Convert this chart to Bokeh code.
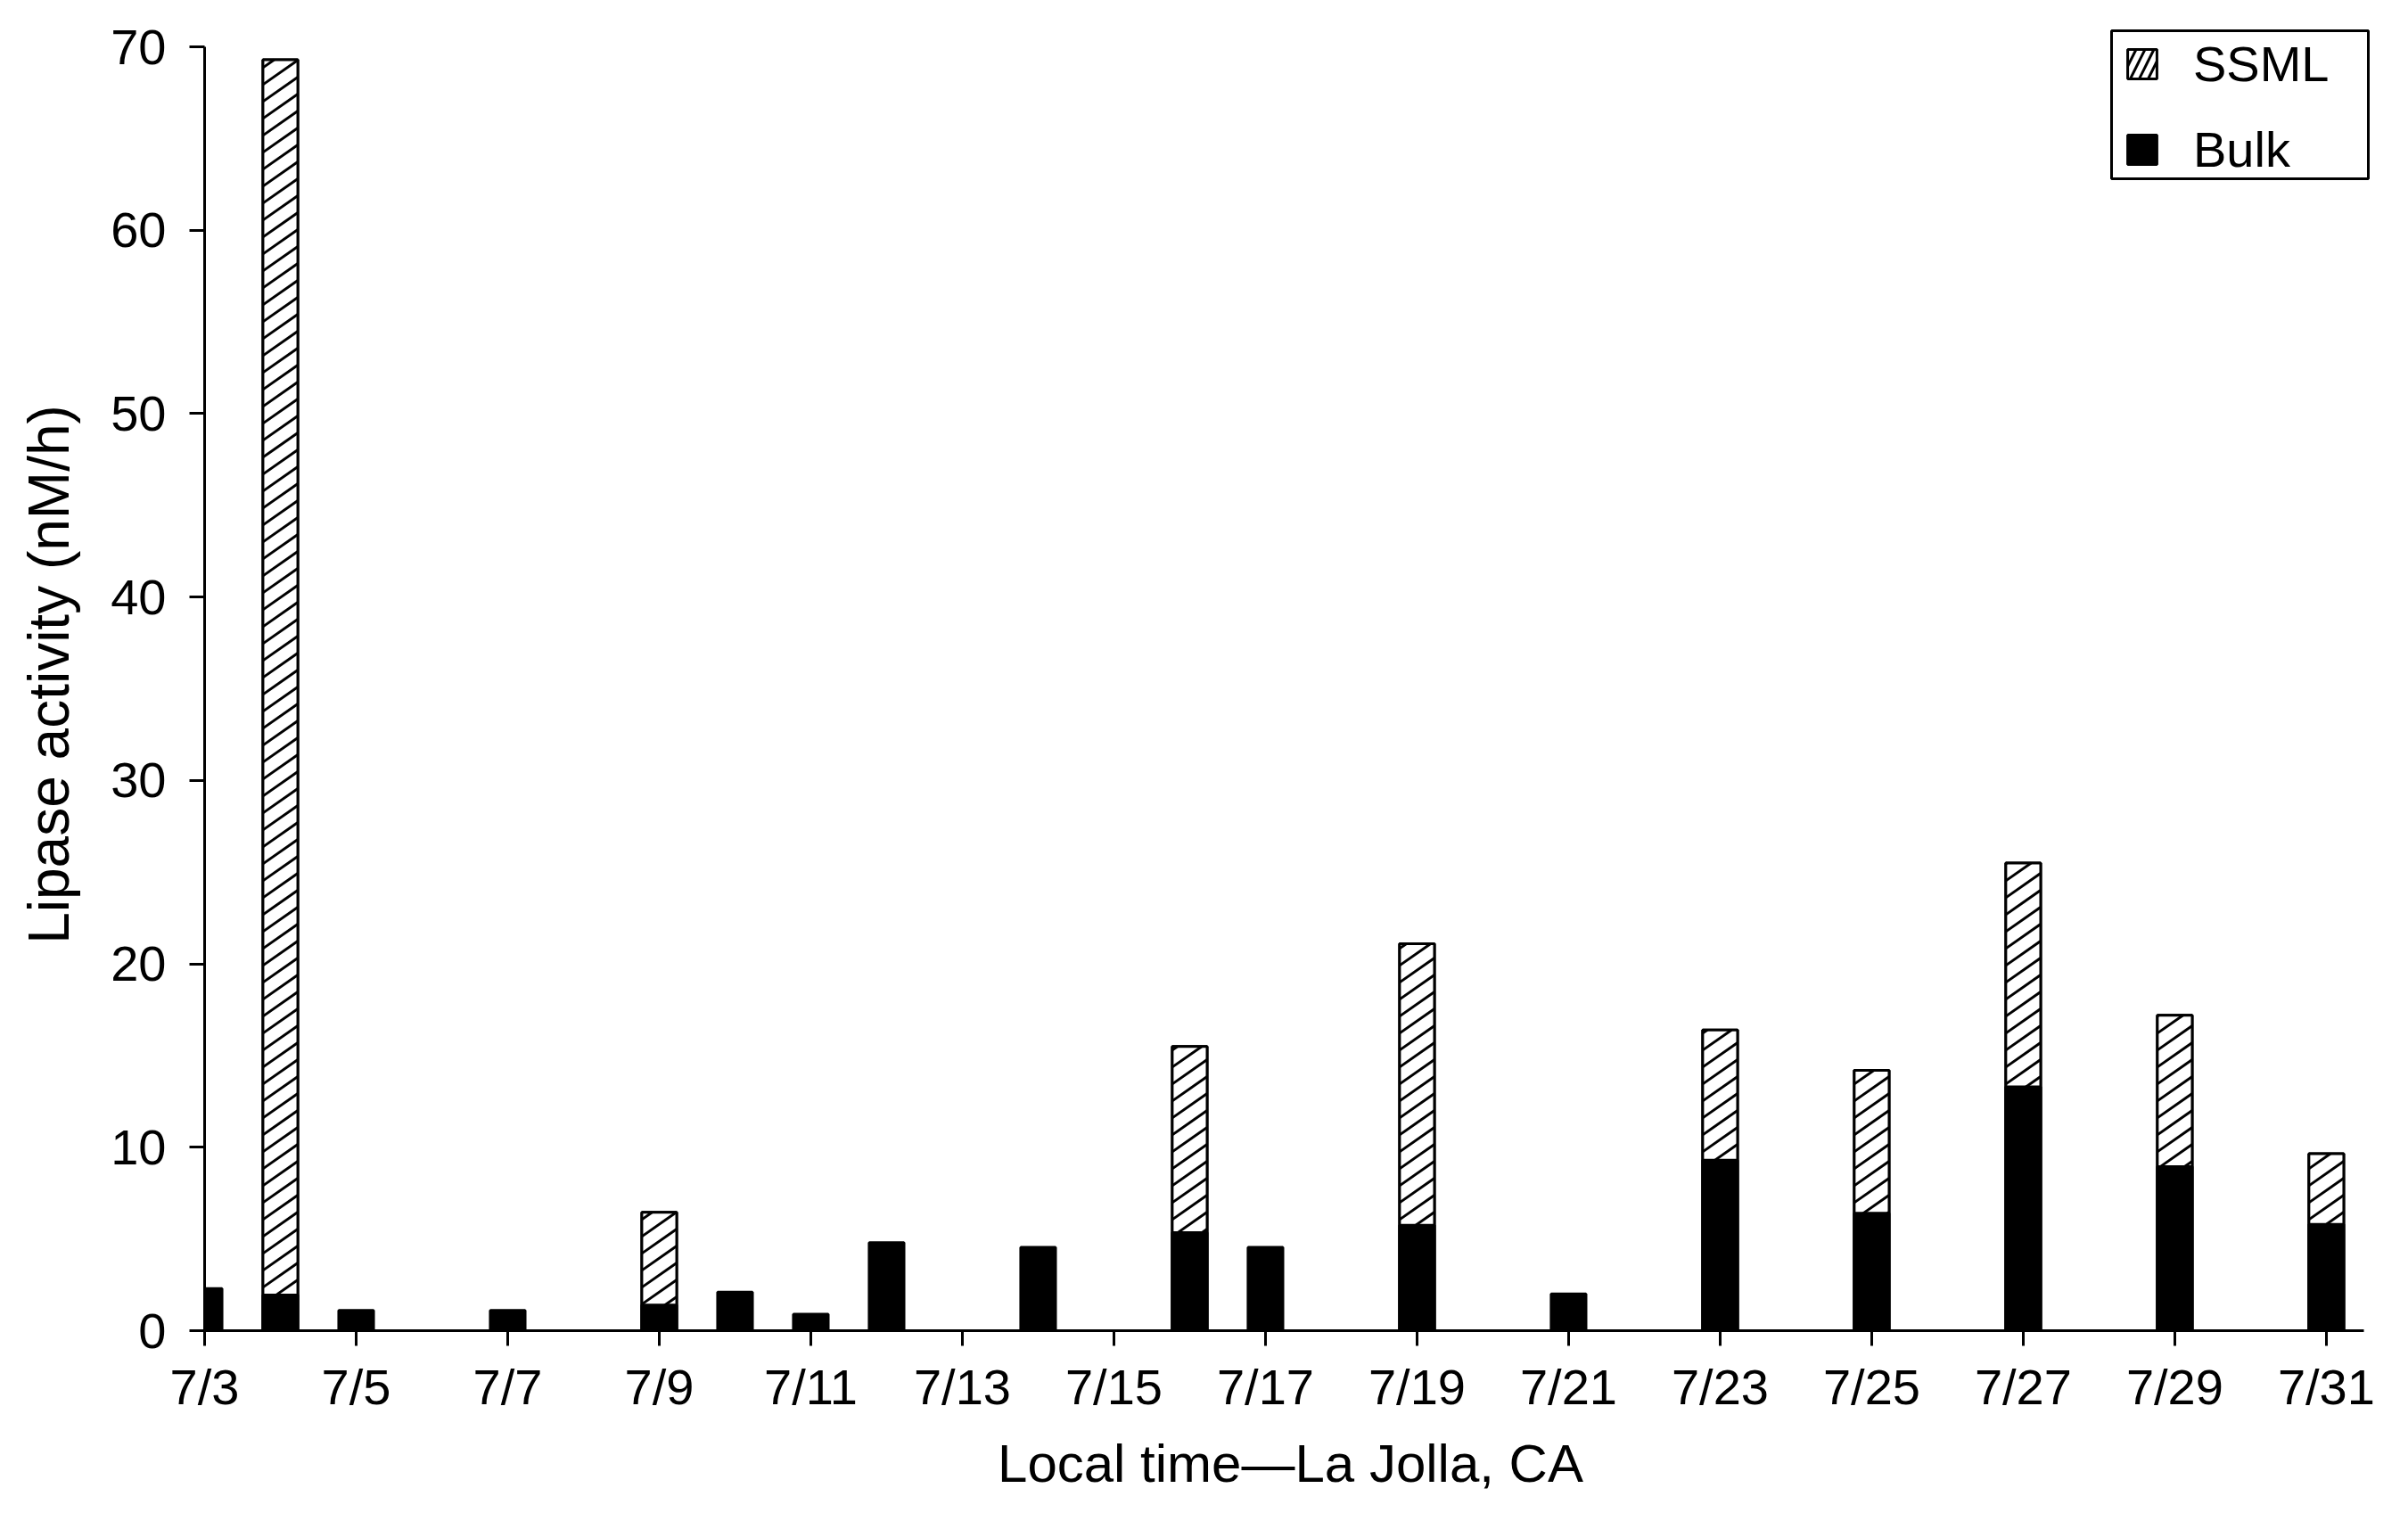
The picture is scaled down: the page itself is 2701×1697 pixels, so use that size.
import numpy as np
from bokeh.plotting import figure
from bokeh.models import FixedTicker, Range1d, Legend, LegendItem, BoxAnnotation
from bokeh.embed import file_html
from bokeh.resources import INLINE

# ---- data (day of July) ----
bulk_days = [3, 4, 5, 7, 9, 10, 11, 12, 14, 16, 17, 19, 21, 23, 25, 27, 29, 31]
bulk_vals = [2.3, 1.95, 1.1, 1.1, 1.4, 2.1, 0.9, 4.8, 4.55, 5.35, 4.55, 5.75, 2.0, 9.3, 6.4, 13.3, 8.95, 5.8]
ssml_days = [4, 9, 16, 19, 23, 25, 27, 29, 31]
ssml_vals = [69.3, 6.45, 15.5, 21.1, 16.4, 14.2, 25.5, 17.2, 9.65]
tick_days = [3, 5, 7, 9, 11, 13, 15, 17, 19, 21, 23, 25, 27, 29, 31]
tick_labels = ["7/3", "7/5", "7/7", "7/9", "7/11", "7/13", "7/15", "7/17", "7/19",
               "7/21", "7/23", "7/25", "7/27", "7/29", "7/31"]
y_ticks = [0, 10, 20, 30, 40, 50, 60, 70]

FONT = "Liberation Sans"
FS = "56px"
BAR_W = 0.46

# frame geometry
W_FIG, H_FIG = 2693, 1689
B_LEFT, B_RIGHT, B_TOP, B_BOTTOM = 229, 28, 20, 197
X0, X1 = 3, 31.66
Y0, Y1 = 0, 71.56
px_per_x = (W_FIG - B_LEFT - B_RIGHT) / (X1 - X0)
px_per_y = (H_FIG - B_TOP - B_BOTTOM) / (Y1 - Y0)

p = figure(width=W_FIG, height=H_FIG, output_backend="svg", toolbar_location=None,
           x_range=Range1d(X0, X1), y_range=Range1d(Y0, Y1),
           min_border_left=B_LEFT, min_border_right=B_RIGHT,
           min_border_top=B_TOP, min_border_bottom=B_BOTTOM)
p.outline_line_color = None
p.xgrid.visible = False
p.ygrid.visible = False
p.background_fill_color = "white"
p.border_fill_color = "white"

# SSML renderer used for the legend swatch (drawn first, then covered)
r_ssml_leg = p.vbar(x=ssml_days, top=ssml_vals, bottom=0, width=BAR_W,
                    fill_color="white", line_color="black", line_width=3,
                    hatch_pattern="/", hatch_color="black", hatch_weight=3, hatch_scale=20)

# SSML bars: white fill
p.vbar(x=ssml_days, top=ssml_vals, bottom=0, width=BAR_W,
       fill_color="white", line_color=None)

# hatch lines ("/" at ~35 deg, ~19 px apart vertically) clipped to each SSML bar
SLOPE, SPACING = 0.7, 19.0
hx, hy = [], []
for xc, top in zip(ssml_days, ssml_vals):
    Wp = BAR_W * px_per_x
    Hp = top * px_per_y
    for c in np.arange(-SLOPE * Wp, Hp, SPACING):
        xa = max(0.0, (0.0 - c) / SLOPE)
        xb = min(Wp, (Hp - c) / SLOPE)
        if xb <= xa:
            continue
        ya, yb = c + SLOPE * xa, c + SLOPE * xb
        left = xc - BAR_W / 2
        hx.append([left + xa / px_per_x, left + xb / px_per_x])
        hy.append([ya / px_per_y, yb / px_per_y])
p.multi_line(xs=hx, ys=hy, line_color="black", line_width=3)

# SSML outline
p.vbar(x=ssml_days, top=ssml_vals, bottom=0, width=BAR_W,
       fill_alpha=0, line_color="black", line_width=3)

r_bulk = p.vbar(x=bulk_days, top=bulk_vals, bottom=0, width=BAR_W,
                fill_color="black", line_color="black", line_width=3)

for ax in (p.xaxis[0], p.yaxis[0]):
    ax.axis_line_width = 3
    ax.axis_line_color = "black"
    ax.major_tick_line_width = 3
    ax.major_tick_line_color = "black"
    ax.major_tick_out = 17
    ax.major_tick_in = 0
    ax.minor_tick_line_color = None
    ax.major_label_text_font = FONT
    ax.major_label_text_font_size = FS
    ax.major_label_text_color = "black"
    ax.axis_label_text_font = FONT
    ax.axis_label_text_font_style = "normal"
    ax.axis_label_text_color = "black"

p.xaxis.bounds = (3, 31.5)
p.yaxis.bounds = (0, 70)

p.xaxis.ticker = FixedTicker(ticks=tick_days)
p.xaxis.major_label_overrides = {d: l for d, l in zip(tick_days, tick_labels)}
p.xaxis.major_label_standoff = 14
p.xaxis.axis_label = "Local time\u2014La Jolla, CA"
p.xaxis.axis_label_text_font_size = "60px"
p.xaxis.axis_label_standoff = 18

p.yaxis.ticker = FixedTicker(ticks=y_ticks)
p.yaxis.major_label_standoff = 26
p.yaxis.axis_label = "Lipase activity (nM/h)"
p.yaxis.axis_label_text_font_size = "64px"
p.yaxis.axis_label_standoff = 30

# legend frame (canvas pixels)
legend_box = BoxAnnotation(left=2368, right=2656, top=34, bottom=200,
                           left_units="canvas", right_units="canvas",
                           top_units="canvas", bottom_units="canvas",
                           fill_color="white", fill_alpha=1,
                           line_color="black", line_alpha=1, line_width=3)
p.add_layout(legend_box)

legend = Legend(items=[LegendItem(label="SSML", renderers=[r_ssml_leg]),
                       LegendItem(label="Bulk", renderers=[r_bulk])],
                location=(2153, 1292))
legend.border_line_color = None
legend.background_fill_alpha = 0
legend.label_text_font = FONT
legend.label_text_font_size = FS
legend.label_text_color = "black"
legend.glyph_width = 41
legend.glyph_height = 41
legend.label_standoff = 37
legend.label_height = 41
legend.spacing = 31
legend.padding = 0
legend.margin = 0
p.add_layout(legend, "center")

open("out.html", "w").write(file_html(p, INLINE))
